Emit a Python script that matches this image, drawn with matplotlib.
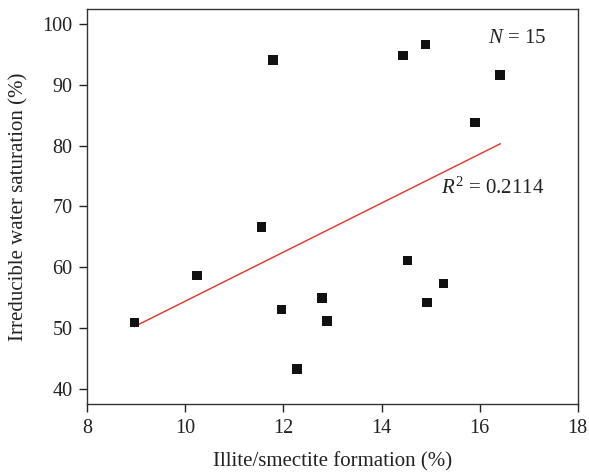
import matplotlib
matplotlib.use("Agg")
import matplotlib.pyplot as plt
import numpy as np

plt.rcParams['font.family'] = ['Liberation Serif', 'DejaVu Serif']
plt.rcParams['mathtext.fontset'] = 'custom'
plt.rcParams['mathtext.rm'] = 'Liberation Serif'
plt.rcParams['mathtext.it'] = 'Liberation Serif:italic'

# Data
illite_smectite = [8.96, 10.24, 11.55, 11.79, 11.96, 12.28, 12.79, 12.89,
                   14.44, 14.53, 14.90, 14.93, 15.26, 15.91, 16.42]
irreducible_sw = [50.9, 58.6, 66.6, 94.1, 53.0, 43.2, 54.9, 51.1,
                  94.8, 61.1, 96.7, 54.2, 57.3, 83.8, 91.6]
trend_x = [8.96, 16.42]
trend_y = [50.2, 80.3]
x_ticks = [8, 10, 12, 14, 16, 18]
y_ticks = [40, 50, 60, 70, 80, 90, 100]

fig = plt.figure(figsize=(5.89, 4.74), dpi=100)
ax = fig.add_axes([0.1482, 0.147, 0.8326, 0.834])

ax.plot(trend_x, trend_y, color='#e8302a', lw=1.0, zorder=2)
ax.scatter(illite_smectite, irreducible_sw, marker='s', s=46, color='#111111',
           edgecolors='none', zorder=3)

ax.set_xlim(8, 18)
ax.set_ylim(37.4, 102.5)
ax.set_xticks(x_ticks)
ax.set_yticks(y_ticks)
ax.tick_params(direction='out', length=5.6, width=1, colors='#222222',
               labelsize=14.5, pad=5)
for s in ax.spines.values():
    s.set_linewidth(1.0)
    s.set_color('#333333')

ax.set_xlabel('Illite/smectite formation (%)', fontsize=15, labelpad=10, color='#222222')
ax.set_ylabel('Irreducible water saturation (%)', fontsize=15, labelpad=10, color='#222222')

ax.text(16.76, 97.7, r'$\mathit{N}$ = 15', fontsize=15, ha='center', va='center', color='#222222')
ax.text(16.27, 73.0, r'$\mathit{R}^{2}$ = 0.2114', fontsize=15, ha='center', va='center', color='#222222')

fig.savefig('out.png', dpi=100)
